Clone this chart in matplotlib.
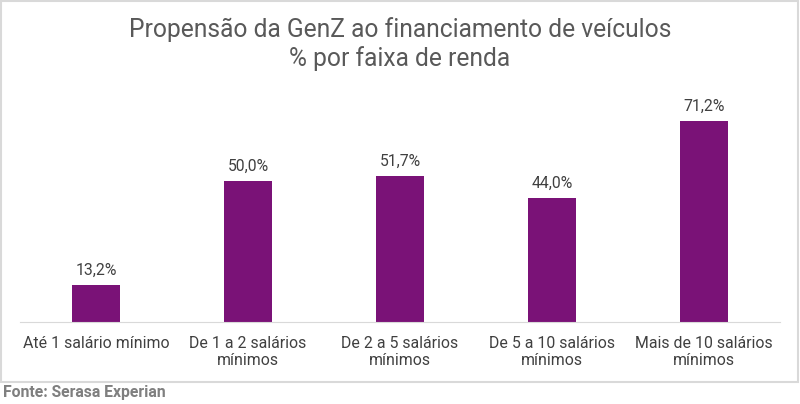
import matplotlib
matplotlib.use("Agg")
import matplotlib.pyplot as plt
from matplotlib.patches import Rectangle

plt.rcParams['font.family'] = ['Roboto', 'DejaVu Sans']

categorias = ["Até 1 salário mínimo", "De 1 a 2 salários\nmínimos", "De 2 a 5 salários\nmínimos",
              "De 5 a 10 salários\nmínimos", "Mais de 10 salários\nmínimos"]
valores = [13.2, 50.0, 51.7, 44.0, 71.2]
rotulos = ["13,2%", "50,0%", "51,7%", "44,0%", "71,2%"]

fig = plt.figure(figsize=(8, 4.04), dpi=100)
# moldura cinza clara do grafico
fig.patches.append(Rectangle((0.001, 0.055), 0.997, 0.943, transform=fig.transFigure,
                             fill=False, edgecolor='#d9d9d9', linewidth=1.5))

ax = fig.add_axes([0.025, 0.203, 0.950, 0.559])
x = range(len(valores))
ax.bar(x, valores, width=0.32, color='#7a1277')
for i, v in enumerate(valores):
    ax.text(i, v + 2.5, rotulos[i], ha='center', va='bottom', fontsize=11.3, color='#404040')

ax.set_xlim(-0.5, 4.5)
ax.set_ylim(0, 80)
ax.set_yticks([])
ax.set_xticks(list(x))
ax.set_xticklabels(categorias, fontsize=11.4, color='#404040', linespacing=1.2)
ax.tick_params(axis='x', length=0, pad=10)
for s in ['top', 'right', 'left']:
    ax.spines[s].set_visible(False)
ax.spines['bottom'].set_color('#d9d9d9')

fig.text(0.5, 0.891, "Propensão da GenZ ao financiamento de veículos\n% por faixa de renda",
         ha='center', va='center', fontsize=17.7, color='#595959', linespacing=1.25)
fig.text(0.004, 0.028, "Fonte: Serasa Experian", ha='left', va='center', fontsize=11.3,
         fontweight='bold', color='#7f7f7f')

fig.savefig("out.png", dpi=100)
